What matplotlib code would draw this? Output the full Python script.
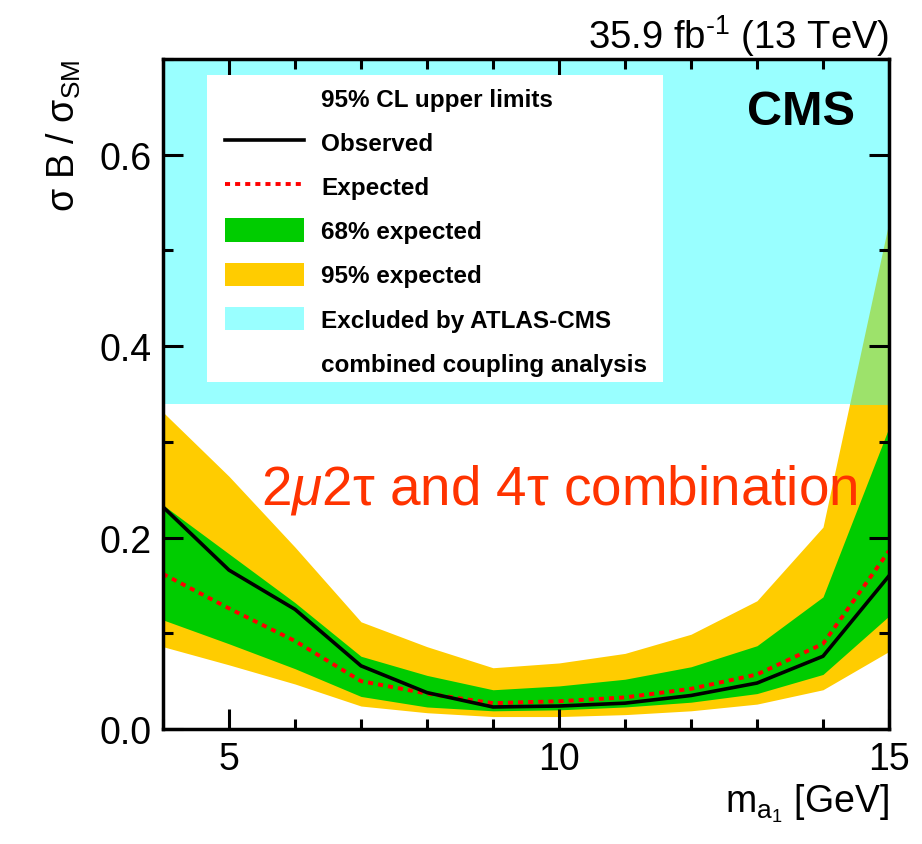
import numpy as np
import matplotlib
matplotlib.use("Agg")
import matplotlib.pyplot as plt
from matplotlib.lines import Line2D
from matplotlib.patches import Patch, Rectangle

plt.rcParams['font.family'] = ['Liberation Sans', 'DejaVu Sans']
plt.rcParams['mathtext.fontset'] = 'custom'
plt.rcParams['mathtext.rm'] = 'Liberation Sans'
plt.rcParams['mathtext.it'] = 'Liberation Sans:italic'
plt.rcParams['mathtext.bf'] = 'Liberation Sans:bold'

# pseudoscalar mass points [GeV]
mass = [4, 5, 6, 7, 8, 9, 10, 11, 12, 13, 14, 15]

# 95% CL upper limits on sigma*B/sigma_SM
observed = [0.232, 0.166, 0.125, 0.066, 0.038, 0.023, 0.024, 0.027, 0.035, 0.048, 0.076, 0.160]
expected = [0.162, 0.126, 0.092, 0.050, 0.037, 0.027, 0.029, 0.033, 0.042, 0.057, 0.089, 0.186]
band68_lo = [0.114, 0.089, 0.063, 0.034, 0.023, 0.019, 0.020, 0.023, 0.028, 0.037, 0.057, 0.118]
band68_hi = [0.234, 0.183, 0.132, 0.076, 0.056, 0.041, 0.045, 0.052, 0.065, 0.087, 0.138, 0.315]
band95_lo = [0.086, 0.067, 0.047, 0.024, 0.017, 0.013, 0.013, 0.015, 0.019, 0.026, 0.041, 0.081]
band95_hi = [0.331, 0.264, 0.190, 0.112, 0.086, 0.064, 0.069, 0.079, 0.099, 0.134, 0.211, 0.530]

# ATLAS-CMS coupling combination excludes everything above this
excluded_min = 0.34

c_yellow = '#ffcc00'
c_green = '#00cc00'
c_cyan = '#99ffff'
c_overlap = '#9de26b'

fig = plt.figure(figsize=(9.22, 8.45), dpi=100)
ax = fig.add_axes([0.1768, 0.1361, 0.7874, 0.7929])

ax.fill_between(mass, band95_lo, band95_hi, color=c_yellow, lw=0, zorder=1)
ax.fill_between(mass, band68_lo, band68_hi, color=c_green, lw=0, zorder=1.1)
ax.axhspan(excluded_min, 0.7, color=c_cyan, lw=0, zorder=1.2)

# where the 95% band runs into the excluded region
overlap = ax.fill_between(mass, band95_lo, band95_hi, color=c_overlap, lw=0, zorder=1.3)
clip = Rectangle((4, excluded_min), 11, 0.7 - excluded_min, transform=ax.transData)
overlap.set_clip_path(clip)

ax.plot(mass, expected, color='red', lw=2.8, ls=(0, (1.3, 1.3)), zorder=2)
ax.plot(mass, observed, color='black', lw=2.6, zorder=2.1)

ax.set_xlim(4, 15)
ax.set_ylim(0, 0.7)
ax.set_xticks([5, 10, 15])
ax.set_xticks(np.arange(4, 16, 1), minor=True)
ax.set_yticks([0.0, 0.2, 0.4, 0.6])
ax.set_yticks(np.arange(0, 0.71, 0.1), minor=True)
ax.set_yticklabels(['0.0', '0.2', '0.4', '0.6'])

ax.tick_params(which='both', direction='in', top=True, right=True, width=2.2,
               labelsize=27, colors='black')
ax.tick_params(which='major', length=14.5, pad=8)
ax.tick_params(which='minor', length=7)
ax.tick_params(axis='x', which='major', pad=9)
for s in ax.spines.values():
    s.set_linewidth(2.5)
    s.set_zorder(3)

ax.set_xlabel(r'm$_{\mathrm{a_1}}$ [GeV]', fontsize=27, loc='right')
ax.xaxis.set_label_coords(1.0, -0.0775)
ax.set_ylabel(r'σ B / σ$_{\mathrm{SM}}$', fontsize=27, loc='top')
ax.yaxis.set_label_coords(-0.11, 1.0)

ax.set_title(r'35.9 fb$^{\text{-1}}$ (13 TeV)', loc='right', fontsize=27.5, pad=8)

ax.text(0.953, 0.903, 'CMS', transform=ax.transAxes, fontsize=35,
        fontweight='bold', ha='right', va='baseline', zorder=6)
ax.text(0.135, 0.336, r'2$\mathit{\mu}$2τ and 4τ combination', transform=ax.transAxes,
        fontsize=39.5, color='#ff3300', ha='left', va='baseline', zorder=6)

# white legend panel
ax.add_patch(Rectangle((0.0606, 0.518), 0.6281, 0.458, transform=ax.transAxes,
                       facecolor='white', edgecolor='none', zorder=4))

blank = Line2D([], [], color='none')
handles = [
    blank,
    Line2D([], [], color='black', lw=2.6),
    Line2D([], [], color='red', lw=2.8, ls=(0, (1.3, 1.3))),
    Patch(facecolor=c_green, edgecolor='none'),
    Patch(facecolor=c_yellow, edgecolor='none'),
    Patch(facecolor=c_cyan, edgecolor='none'),
    blank,
]
labels = [
    '95% CL upper limits',
    'Observed',
    'Expected',
    '68% expected',
    '95% expected',
    'Excluded by ATLAS-CMS',
    'combined coupling analysis',
]
leg = ax.legend(handles, labels, loc='upper left', bbox_to_anchor=(0.0854, 0.9597),
                borderaxespad=0, borderpad=0, frameon=False,
                prop={'weight': 'bold', 'size': 17.5},
                handlelength=3.25, handleheight=1.1, handletextpad=0.7,
                labelspacing=0.79)
leg.set_zorder(5)

fig.savefig('out.png', dpi=100)
